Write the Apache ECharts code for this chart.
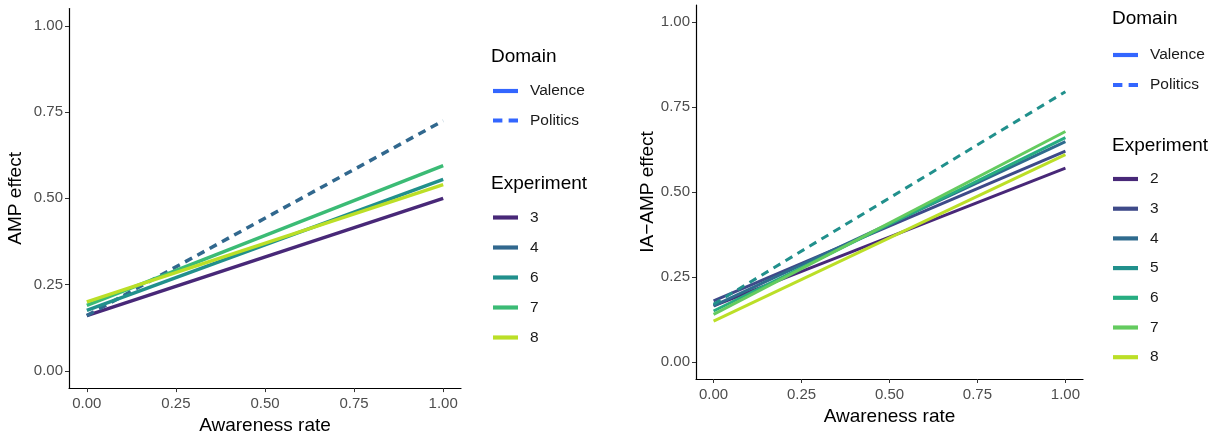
<!DOCTYPE html>
<html>
<head>
<meta charset="utf-8">
<script src="https://cdn.jsdelivr.net/npm/echarts@6/dist/echarts.min.js"></script>
<style>
html,body{margin:0;padding:0;background:#fff;}
#chart{width:1225px;height:440px;}
</style>
</head>
<body>
<div id="chart"></div>
<script>
// ---- data ----
const xTicks = [0, 0.25, 0.5, 0.75, 1];
const yTicks = [0, 0.25, 0.5, 0.75, 1];
const xEnds = [0, 1];

const leftExperiments = ['3', '4', '6', '7', '8'];
const leftDomains = ['Valence', 'Politics', 'Valence', 'Valence', 'Valence'];
const leftStart = [0.16, 0.16, 0.175, 0.19, 0.20];
const leftEnd = [0.50, 0.725, 0.555, 0.595, 0.54];
const leftColors = ['#482878', '#31688E', '#21908C', '#3BBB75', '#BBDF27'];

const rightExperiments = ['2', '3', '4', '5', '6', '7', '8'];
const rightDomains = ['Valence', 'Valence', 'Valence', 'Politics', 'Valence', 'Valence', 'Valence'];
const rightStart = [0.165, 0.18, 0.165, 0.17, 0.15, 0.14, 0.12];
const rightEnd = [0.57, 0.62, 0.648, 0.795, 0.66, 0.678, 0.61];
const rightColors = ['#482878', '#3E4A89', '#2F6B8E', '#21908C', '#27AD81', '#64CB5F', '#BBDF27'];

const domainNames = ['Valence', 'Politics'];
const domainColor = '#3366FF';

// ---- helpers ----
const FONT = 'Liberation Sans';
const dash = [8, 6];
const tickFmt = v => v.toFixed(2);
const solidIcon = 'path://M0,0H24V4H0Z';
const dashIcon = 'path://M0,0H9V4H0Z M15,0H24V4H15Z';

function makeX(gi, nameGap) {
  return {
    gridIndex: gi, type: 'value', min: -0.05, max: 1.05,
    axisLine: { show: true, onZero: false, lineStyle: { color: '#000', width: 1.2 } },
    axisTick: { show: true, customValues: xTicks, length: 4, lineStyle: { color: '#333', width: 1 } },
    axisLabel: { customValues: xTicks, formatter: tickFmt, color: '#4d4d4d', fontSize: 15, margin: 8, fontFamily: FONT },
    splitLine: { show: false },
    name: 'Awareness rate', nameLocation: 'middle', nameGap: nameGap,
    nameTextStyle: { fontSize: 19, color: '#000', fontFamily: FONT }
  };
}
function makeY(gi, name, nameGap) {
  return {
    gridIndex: gi, type: 'value', min: -0.05, max: 1.05,
    axisLine: { show: true, onZero: false, lineStyle: { color: '#000', width: 1.2 } },
    axisTick: { show: true, customValues: yTicks, length: 4, lineStyle: { color: '#333', width: 1 } },
    axisLabel: { customValues: yTicks, formatter: tickFmt, color: '#4d4d4d', fontSize: 15, margin: 6, fontFamily: FONT },
    splitLine: { show: false },
    name: name, nameLocation: 'middle', nameGap: nameGap, nameRotate: 90,
    nameTextStyle: { fontSize: 19, color: '#000', fontFamily: FONT }
  };
}

const series = [];
function addPanel(prefix, gi, exps, doms, st, en, cols, width) {
  domainNames.forEach(d => {
    series.push({
      name: prefix + d, type: 'line', xAxisIndex: gi, yAxisIndex: gi, data: [],
      symbol: 'none', silent: true,
      itemStyle: { color: domainColor },
      lineStyle: { color: domainColor, width: 3 }
    });
  });
  exps.forEach((e, i) => {
    series.push({
      name: prefix + e, type: 'line', xAxisIndex: gi, yAxisIndex: gi,
      data: [[xEnds[0], st[i]], [xEnds[1], en[i]]],
      symbol: 'none', silent: true,
      itemStyle: { color: cols[i] },
      lineStyle: { color: cols[i], width: width, type: doms[i] === 'Politics' ? dash : 'solid', cap: 'butt' }
    });
  });
}
addPanel('L', 0, leftExperiments, leftDomains, leftStart, leftEnd, leftColors, 3.5);
addPanel('R', 1, rightExperiments, rightDomains, rightStart, rightEnd, rightColors, 3);

const legendText = { fontSize: 15.5, color: '#1a1a1a', fontFamily: FONT, padding: [0, 0, 0, 7] };
function legend(names, left, top, gap) {
  return {
    orient: 'vertical', left: left, top: top, padding: 0,
    itemWidth: 25, itemHeight: 14, itemGap: gap,
    symbolKeepAspect: true,
    itemStyle: { borderWidth: 0 },
    data: names.map(n => ({ name: n, icon: /Politics$/.test(n) ? dashIcon : solidIcon })),
    selectedMode: false,
    formatter: n => n.slice(1),
    textStyle: legendText
  };
}
const titleStyle = { fontSize: 19, fontWeight: 'normal', color: '#000', fontFamily: FONT };

const option = {
  animation: false,
  backgroundColor: '#fff',
  grid: [
    { left: 69, top: 8.6, width: 392, height: 382.8, containLabel: false },
    { left: 696, top: 5, width: 387, height: 374, containLabel: false }
  ],
  xAxis: [makeX(0, 25), makeX(1, 23)],
  yAxis: [makeY(0, 'AMP effect', 44), makeY(1, 'IA\u2212AMP effect', 38)],
  title: [
    { text: 'Domain', left: 491, top: 47, padding: 0, textStyle: titleStyle },
    { text: 'Experiment', left: 491, top: 174, padding: 0, textStyle: titleStyle },
    { text: 'Domain', left: 1112, top: 9, padding: 0, textStyle: titleStyle },
    { text: 'Experiment', left: 1112, top: 136, padding: 0, textStyle: titleStyle }
  ],
  legend: [
    legend(domainNames.map(d => 'L' + d), 493, 83, 13.5),
    legend(leftExperiments.map(e => 'L' + e), 493, 209.5, 14),
    legend(domainNames.map(d => 'R' + d), 1113, 47, 14),
    legend(rightExperiments.map(e => 'R' + e), 1113, 171, 13.7)
  ],
  series: series
};

const chart = echarts.init(document.getElementById('chart'), null, { renderer: 'canvas' });
chart.setOption(option);
</script>
</body>
</html>
